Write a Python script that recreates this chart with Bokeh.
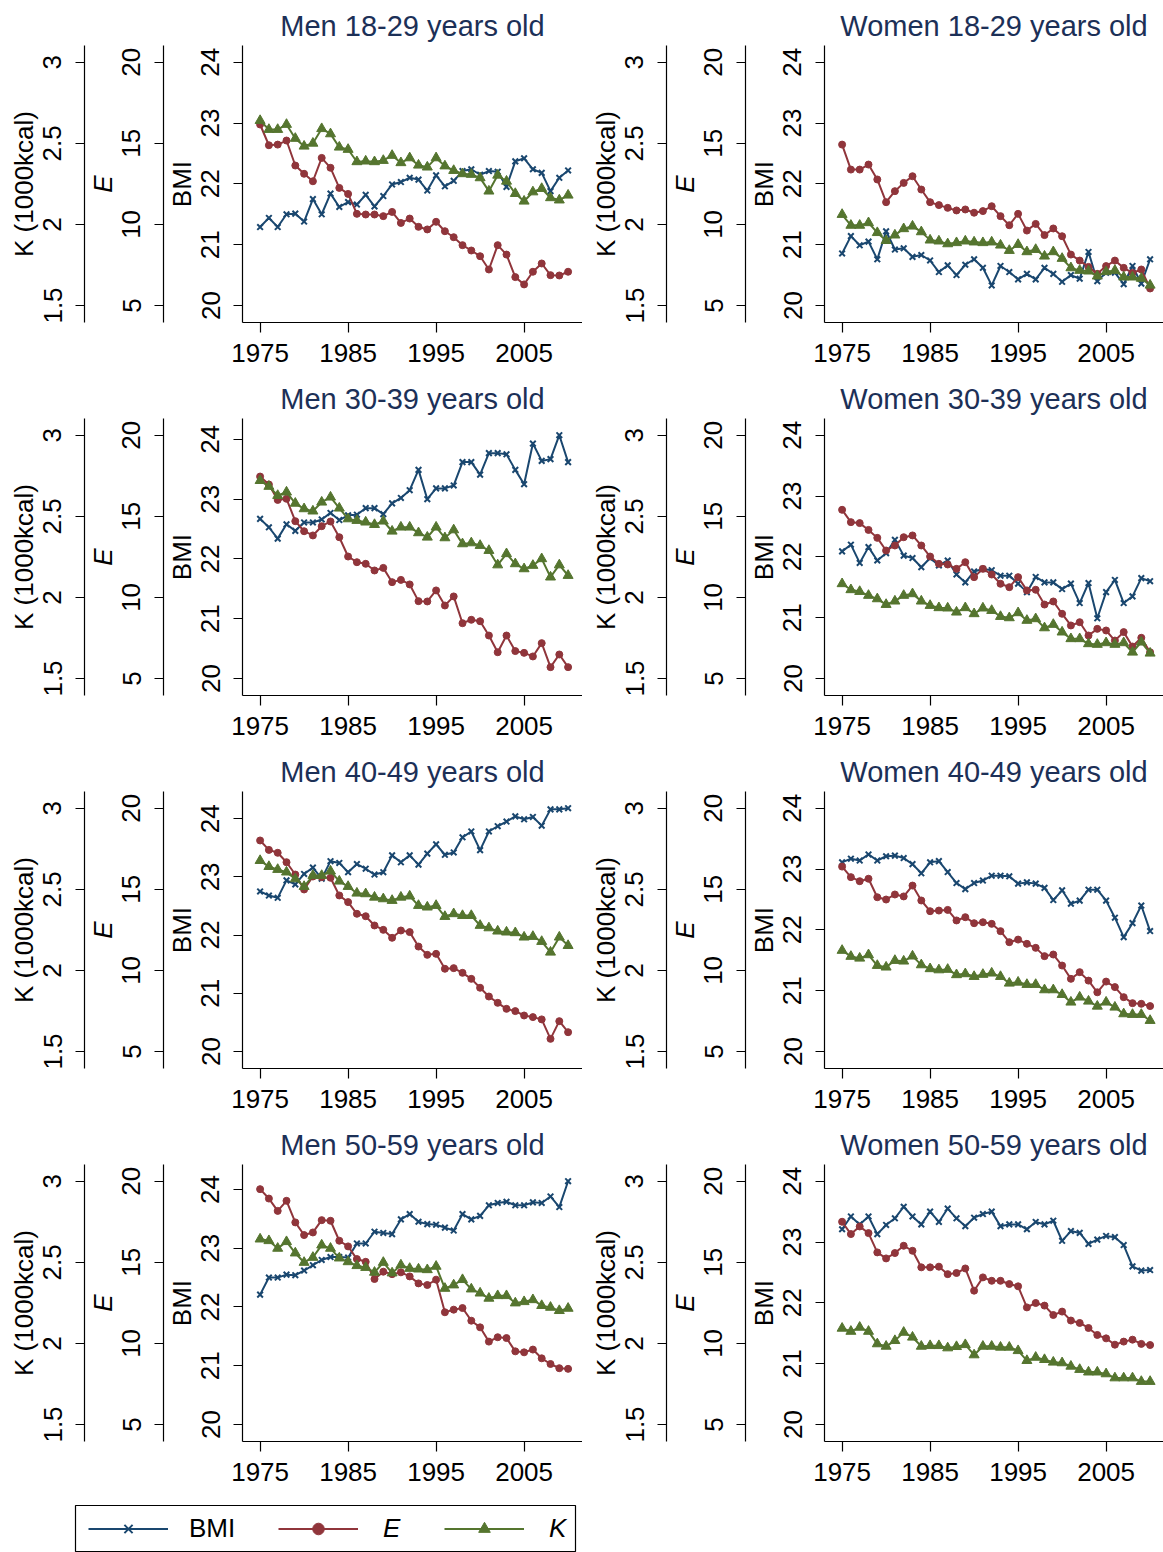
import math
from bokeh.plotting import figure
from bokeh.models import (Range1d, LinearAxis, FixedTicker, NumeralTickFormatter,
                          Legend, LegendItem)
from bokeh.layouts import column, row
from bokeh.embed import file_html
from bokeh.resources import INLINE

# ---------------- data ----------------
years = list(range(1975, 2011))
x_ticks = [1975, 1985, 1995, 2005]
bmi_ticks = [20, 21, 22, 23, 24]
e_ticks = [5, 10, 15, 20]
k_ticks = [1.5, 2, 2.5, 3]

titles = ["Men 18-29 years old", "Women 18-29 years old",
          "Men 30-39 years old", "Women 30-39 years old",
          "Men 40-49 years old", "Women 40-49 years old",
          "Men 50-59 years old", "Women 50-59 years old"]

bmi_men_18_29 = [21.29, 21.44, 21.29, 21.50, 21.51, 21.38, 21.75, 21.50, 21.84, 21.62,
                 21.70, 21.66, 21.82, 21.63, 21.80, 21.99, 22.03, 22.10, 22.07, 21.89,
                 22.14, 21.96, 22.05, 22.21, 22.24, 22.15, 22.21, 22.20, 21.95, 22.37,
                 22.42, 22.24, 22.18, 21.88, 22.10, 22.22]
e_men_18_29 = [16.16, 14.88, 14.92, 15.17, 13.63, 13.12, 12.66, 14.10, 13.49, 12.25,
               11.88, 10.65, 10.61, 10.61, 10.51, 10.77, 10.09, 10.36, 9.85, 9.69,
               10.16, 9.58, 9.21, 8.72, 8.39, 8.04, 7.22, 8.72, 8.14, 6.75,
               6.30, 7.08, 7.59, 6.87, 6.85, 7.08]
k_men_18_29 = [2.64, 2.585, 2.585, 2.616, 2.53, 2.482, 2.50, 2.59, 2.558, 2.476,
               2.462, 2.386, 2.39, 2.386, 2.394, 2.425, 2.38, 2.41, 2.365, 2.353,
               2.41, 2.36, 2.332, 2.312, 2.308, 2.287, 2.205, 2.303, 2.266, 2.19,
               2.143, 2.20, 2.221, 2.164, 2.15, 2.18]

bmi_women_18_29 = [20.855, 21.14, 20.99, 21.05, 20.76, 21.22, 20.92, 20.94, 20.80, 20.83,
                   20.74, 20.55, 20.66, 20.50, 20.67, 20.76, 20.62, 20.33, 20.65, 20.55,
                   20.43, 20.52, 20.43, 20.62, 20.52, 20.39, 20.50, 20.44, 20.88, 20.40,
                   20.54, 20.54, 20.35, 20.65, 20.36, 20.76]
e_women_18_29 = [14.92, 13.38, 13.38, 13.69, 12.77, 11.37, 12.05, 12.56, 12.97, 12.15,
                 11.37, 11.19, 11.02, 10.86, 10.92, 10.72, 10.82, 11.12, 10.51, 9.95,
                 10.65, 9.62, 10.03, 9.34, 9.75, 9.27, 8.14, 7.77, 7.38, 6.95,
                 7.43, 7.77, 7.32, 7.01, 7.22, 6.05]
k_women_18_29 = [2.061, 1.994, 1.994, 2.01, 1.949, 1.90, 1.934, 1.973, 1.989, 1.954,
                 1.903, 1.897, 1.88, 1.887, 1.897, 1.891, 1.887, 1.891, 1.872, 1.839,
                 1.876, 1.831, 1.845, 1.804, 1.831, 1.79, 1.732, 1.716, 1.712, 1.681,
                 1.708, 1.716, 1.675, 1.675, 1.667, 1.625]

bmi_men_30_39 = [22.67, 22.53, 22.34, 22.58, 22.47, 22.61, 22.61, 22.66, 22.77, 22.65,
                 22.73, 22.74, 22.85, 22.85, 22.75, 22.93, 23.02, 23.15, 23.49, 23.00,
                 23.18, 23.18, 23.23, 23.62, 23.62, 23.41, 23.77, 23.77, 23.75, 23.49,
                 23.25, 23.93, 23.64, 23.67, 24.07, 23.62]
e_men_30_39 = [17.45, 16.96, 16.01, 16.08, 14.70, 14.08, 13.82, 14.39, 14.68, 13.71,
               12.52, 12.17, 12.07, 11.66, 11.82, 10.94, 11.08, 10.80, 9.77, 9.75,
               10.43, 9.50, 10.06, 8.41, 8.62, 8.53, 7.65, 6.62, 7.65, 6.69,
               6.58, 6.36, 7.18, 5.70, 6.48, 5.70]
k_men_30_39 = [2.72, 2.684, 2.628, 2.649, 2.58, 2.546, 2.532, 2.587, 2.618, 2.55,
               2.484, 2.474, 2.464, 2.449, 2.47, 2.408, 2.433, 2.433, 2.398, 2.371,
               2.433, 2.367, 2.416, 2.33, 2.336, 2.32, 2.289, 2.20, 2.269, 2.207,
               2.176, 2.197, 2.238, 2.125, 2.20, 2.135]

bmi_women_30_39 = [22.09, 22.20, 21.90, 22.16, 21.94, 22.06, 22.28, 22.02, 21.98, 21.83,
                   21.98, 21.86, 21.94, 21.71, 21.58, 21.76, 21.80, 21.78, 21.69, 21.69,
                   21.56, 21.42, 21.67, 21.58, 21.58, 21.47, 21.56, 21.24, 21.57, 20.99,
                   21.42, 21.62, 21.24, 21.35, 21.65, 21.60]
e_women_30_39 = [15.40, 14.64, 14.58, 14.16, 13.67, 12.89, 13.20, 13.71, 13.82, 13.20,
                 12.52, 12.07, 12.03, 11.76, 12.17, 11.25, 11.76, 11.41, 10.84, 10.63,
                 11.25, 10.43, 10.47, 9.56, 9.75, 8.99, 8.27, 8.47, 7.65, 8.06,
                 7.96, 7.34, 7.86, 6.97, 7.51, 6.62]
k_women_30_39 = [2.084, 2.047, 2.036, 2.012, 1.991, 1.956, 1.977, 2.012, 2.022, 1.977,
                 1.95, 1.936, 1.934, 1.909, 1.936, 1.899, 1.934, 1.919, 1.882, 1.874,
                 1.905, 1.858, 1.868, 1.812, 1.833, 1.786, 1.745, 1.745, 1.714, 1.71,
                 1.72, 1.71, 1.72, 1.662, 1.724, 1.656]

bmi_men_40_49 = [22.75, 22.68, 22.64, 22.94, 22.87, 23.05, 23.16, 22.97, 23.27, 23.24,
                 23.08, 23.22, 23.14, 23.04, 23.08, 23.37, 23.25, 23.37, 23.21, 23.40,
                 23.56, 23.38, 23.42, 23.68, 23.78, 23.46, 23.78, 23.87, 23.95, 24.04,
                 23.99, 24.03, 23.88, 24.16, 24.16, 24.18]
e_men_40_49 = [18.01, 17.43, 17.25, 16.67, 15.91, 14.99, 15.79, 15.75, 15.71, 14.62,
               14.21, 13.49, 13.34, 12.77, 12.50, 12.01, 12.46, 12.36, 11.47, 10.96,
               11.02, 10.10, 10.14, 9.85, 9.48, 8.93, 8.39, 8.00, 7.63, 7.49,
               7.22, 7.12, 6.98, 5.78, 6.87, 6.19]
k_men_40_49 = [2.677, 2.64, 2.622, 2.606, 2.564, 2.517, 2.585, 2.585, 2.612, 2.55,
               2.517, 2.476, 2.472, 2.451, 2.441, 2.431, 2.451, 2.458, 2.40, 2.39,
               2.40, 2.332, 2.349, 2.338, 2.338, 2.277, 2.262, 2.242, 2.236, 2.232,
               2.205, 2.209, 2.178, 2.112, 2.205, 2.153]

bmi_women_40_49 = [23.11, 23.17, 23.14, 23.24, 23.14, 23.21, 23.22, 23.18, 23.08, 22.93,
                   23.11, 23.13, 22.95, 22.77, 22.67, 22.77, 22.81, 22.89, 22.89, 22.88,
                   22.76, 22.78, 22.76, 22.69, 22.49, 22.65, 22.43, 22.48, 22.66, 22.66,
                   22.48, 22.20, 21.88, 22.11, 22.40, 21.98]
e_women_40_49 = [16.40, 15.75, 15.50, 15.65, 14.51, 14.37, 14.68, 14.56, 15.23, 14.31,
                 13.65, 13.69, 13.73, 13.08, 13.28, 12.91, 12.97, 12.87, 12.42, 11.74,
                 11.90, 11.64, 11.39, 10.88, 10.98, 10.30, 9.48, 9.89, 9.37, 8.65,
                 9.31, 8.97, 8.35, 7.98, 7.94, 7.80]
k_women_40_49 = [2.123, 2.086, 2.075, 2.096, 2.03, 2.02, 2.061, 2.057, 2.088, 2.034,
                 2.01, 2.003, 2.006, 1.973, 1.979, 1.962, 1.975, 1.983, 1.962, 1.921,
                 1.927, 1.913, 1.913, 1.880, 1.880, 1.851, 1.804, 1.835, 1.81, 1.779,
                 1.804, 1.773, 1.732, 1.728, 1.728, 1.691]

bmi_men_50_59 = [22.21, 22.50, 22.50, 22.55, 22.54, 22.62, 22.71, 22.80, 22.85, 22.85,
                 22.84, 23.08, 23.08, 23.28, 23.26, 23.24, 23.49, 23.58, 23.45, 23.41,
                 23.40, 23.35, 23.30, 23.58, 23.49, 23.55, 23.73, 23.77, 23.79, 23.73,
                 23.73, 23.78, 23.77, 23.88, 23.70, 24.14]
e_men_50_59 = [19.51, 18.93, 18.17, 18.79, 17.46, 16.68, 16.84, 17.60, 17.56, 16.33,
               15.98, 15.20, 15.03, 13.97, 14.42, 14.27, 14.38, 14.13, 13.70, 13.60,
               13.93, 11.92, 12.08, 12.18, 11.40, 10.99, 10.11, 10.38, 10.33, 9.51,
               9.45, 9.62, 9.08, 8.73, 8.47, 8.43]
k_men_50_59 = [2.643, 2.633, 2.586, 2.627, 2.557, 2.499, 2.53, 2.606, 2.586, 2.526,
               2.503, 2.479, 2.468, 2.438, 2.499, 2.434, 2.483, 2.462, 2.458, 2.454,
               2.475, 2.339, 2.36, 2.393, 2.335, 2.31, 2.278, 2.294, 2.294, 2.249,
               2.257, 2.269, 2.233, 2.222, 2.202, 2.216]

bmi_women_50_59 = [23.21, 23.42, 23.29, 23.42, 23.13, 23.28, 23.39, 23.58, 23.42, 23.29,
                   23.50, 23.33, 23.55, 23.39, 23.26, 23.40, 23.46, 23.50, 23.26, 23.29,
                   23.29, 23.21, 23.33, 23.29, 23.35, 23.02, 23.18, 23.15, 22.97, 23.04,
                   23.10, 23.08, 22.95, 22.60, 22.53, 22.54]
e_women_50_59 = [17.50, 16.74, 17.21, 16.80, 15.61, 15.24, 15.57, 16.02, 15.71, 14.69,
                 14.69, 14.73, 14.27, 14.34, 14.62, 13.25, 14.07, 13.86, 13.86, 13.66,
                 13.52, 12.22, 12.49, 12.33, 11.75, 11.96, 11.41, 11.26, 10.95, 10.52,
                 10.31, 9.92, 10.11, 10.23, 9.97, 9.90]
k_women_50_59 = [2.093, 2.074, 2.099, 2.074, 1.997, 1.982, 2.017, 2.068, 2.038, 1.982,
                 1.986, 1.986, 1.972, 1.98, 1.992, 1.929, 1.982, 1.982, 1.976, 1.976,
                 1.955, 1.894, 1.914, 1.90, 1.884, 1.880, 1.859, 1.839, 1.823, 1.823,
                 1.812, 1.787, 1.787, 1.787, 1.765, 1.765]

# ---------------- styles ----------------
BMI_COLOR = "#1a476f"
E_COLOR = "#90353b"
K_COLOR = "#55752f"
TITLE_COLOR = "#1c3057"
FONT = "Liberation Sans"
FS = "26px"

PAD_TOP = 16.7 / 243.3
PAD_BOT = 17.0 / 243.3
LEFT_BORDER = 242
PANEL_H = 373
LEFT_W = 582
RIGHT_W = 581
X_START = 1973.0
PX_PER_YEAR = 8.8


def style_y(ax, ticks, label, italic=False):
    ax.ticker = FixedTicker(ticks=ticks)
    ax.formatter = NumeralTickFormatter(format="0.[0]")
    ax.axis_label = label
    ax.axis_label_text_font = FONT
    ax.axis_label_text_font_size = FS
    ax.axis_label_text_font_style = "italic" if italic else "normal"
    ax.axis_label_text_color = "black"
    ax.axis_label_standoff = 2
    ax.axis_label_text_line_height = 1.0
    ax.major_label_text_font = FONT
    ax.major_label_text_font_size = FS
    ax.major_label_text_color = "black"
    ax.major_label_text_line_height = 1.0
    ax.major_label_orientation = "vertical"
    ax.major_label_standoff = 14
    ax.major_tick_out = 9
    ax.major_tick_in = 0
    ax.minor_tick_out = 0
    ax.minor_tick_in = 0
    ax.axis_line_color = "black"
    ax.axis_line_width = 1.2
    ax.major_tick_line_color = "black"
    ax.major_tick_line_width = 1.2


def panel(title, bmi, e, k, width, right_border):
    top = max(24.0, max(bmi))
    span = top - 20.0
    x_end = X_START + (width - LEFT_BORDER - right_border) / PX_PER_YEAR
    p = figure(width=width, height=PANEL_H,
               x_range=Range1d(X_START, x_end),
               y_range=Range1d(20.0 - PAD_BOT * span, top + PAD_TOP * span),
               output_backend="svg", toolbar_location=None, title=title,
               min_border_left=LEFT_BORDER, min_border_right=right_border,
               min_border_top=45, min_border_bottom=51)
    p.extra_y_ranges = {
        "E": Range1d(5 - PAD_BOT * 15, 20 + PAD_TOP * 15),
        "K": Range1d(1.5 - PAD_BOT * 1.5, 3 + PAD_TOP * 1.5),
    }
    p.xgrid.visible = False
    p.ygrid.visible = False
    p.outline_line_color = None
    p.background_fill_color = "white"
    p.border_fill_color = "white"

    p.title.align = "center"
    p.title.text_font = FONT
    p.title.text_font_size = "29px"
    p.title.text_font_style = "normal"
    p.title.text_color = TITLE_COLOR
    p.title.standoff = 7

    style_y(p.yaxis[0], bmi_ticks, "BMI")
    ax_e = LinearAxis(y_range_name="E")
    style_y(ax_e, e_ticks, "E", italic=True)
    p.add_layout(ax_e, "left")
    ax_k = LinearAxis(y_range_name="K")
    style_y(ax_k, k_ticks, "K (1000kcal)")
    p.add_layout(ax_k, "left")

    xa = p.xaxis[0]
    xa.ticker = FixedTicker(ticks=x_ticks)
    xa.major_label_text_font = FONT
    xa.major_label_text_font_size = FS
    xa.major_label_text_color = "black"
    xa.major_label_standoff = 11
    xa.major_tick_out = 10
    xa.major_tick_in = 0
    xa.minor_tick_out = 0
    xa.minor_tick_in = 0
    xa.axis_line_color = "black"
    xa.axis_line_width = 1.2
    xa.major_tick_line_color = "black"
    xa.major_tick_line_width = 1.2

    p.line(years, bmi, line_color=BMI_COLOR, line_width=2)
    p.scatter(years, bmi, marker="x", size=8, line_color=BMI_COLOR, line_width=2)
    p.line(years, e, y_range_name="E", line_color=E_COLOR, line_width=2)
    p.scatter(years, e, y_range_name="E", marker="circle", size=7,
              fill_color=E_COLOR, line_color=E_COLOR)
    p.line(years, k, y_range_name="K", line_color=K_COLOR, line_width=2)
    p.scatter(years, k, y_range_name="K", marker="triangle", size=10,
              fill_color=K_COLOR, line_color=K_COLOR)
    return p


series = [
    (bmi_men_18_29, e_men_18_29, k_men_18_29),
    (bmi_women_18_29, e_women_18_29, k_women_18_29),
    (bmi_men_30_39, e_men_30_39, k_men_30_39),
    (bmi_women_30_39, e_women_30_39, k_women_30_39),
    (bmi_men_40_49, e_men_40_49, k_men_40_49),
    (bmi_women_40_49, e_women_40_49, k_women_40_49),
    (bmi_men_50_59, e_men_50_59, k_men_50_59),
    (bmi_women_50_59, e_women_50_59, k_women_50_59),
]

rows = []
for i in range(4):
    bl, el, kl = series[2 * i]
    br, er, kr = series[2 * i + 1]
    pl = panel(titles[2 * i], bl, el, kl, LEFT_W, 0)
    pr = panel(titles[2 * i + 1], br, er, kr, RIGHT_W, 0)
    rows.append(row(pl, pr))

# ---------------- legend ----------------
# The legend strip reuses the last panel's series; its ranges keep them out of view,
# so only the legend swatches are visible.
leg = figure(width=LEFT_W, height=60, x_range=Range1d(0, 1), y_range=Range1d(0, 1),
             output_backend="svg", toolbar_location=None,
             x_axis_location=None, y_axis_location=None,
             min_border_left=75, min_border_right=7, min_border_top=13, min_border_bottom=0)
leg.xgrid.visible = False
leg.ygrid.visible = False
leg.outline_line_color = "black"
leg.outline_line_width = 1.2

r_bl = leg.line(years, bmi_men_50_59, line_color=BMI_COLOR, line_width=2)
r_bs = leg.scatter(years, bmi_men_50_59, marker="x", size=8, line_color=BMI_COLOR, line_width=2)
r_el = leg.line(years, e_men_50_59, line_color=E_COLOR, line_width=2)
r_es = leg.scatter(years, e_men_50_59, marker="circle", size=7, fill_color=E_COLOR, line_color=E_COLOR)
r_kl = leg.line(years, k_men_50_59, line_color=K_COLOR, line_width=2)
r_ks = leg.scatter(years, k_men_50_59, marker="triangle", size=10, fill_color=K_COLOR, line_color=K_COLOR)

common = dict(orientation="horizontal", glyph_width=80, glyph_height=29,
              padding=0, margin=0, border_line_color=None,
              background_fill_alpha=0, label_text_font=FONT, label_text_font_size=FS,
              label_text_color="black", label_height=29)
leg1 = Legend(items=[LegendItem(label="BMI", renderers=[r_bl, r_bs])],
              location=(13, 8), label_standoff=21, **common)
leg2 = Legend(items=[LegendItem(label="E", renderers=[r_el, r_es]),
                     LegendItem(label="K", renderers=[r_kl, r_ks])],
              location=(203, 8), label_standoff=25, spacing=41,
              label_text_font_style="italic", **common)
leg.add_layout(leg1)
leg.add_layout(leg2)

layout = column(*rows, leg)

open("out.html", "w").write(file_html(layout, INLINE))
